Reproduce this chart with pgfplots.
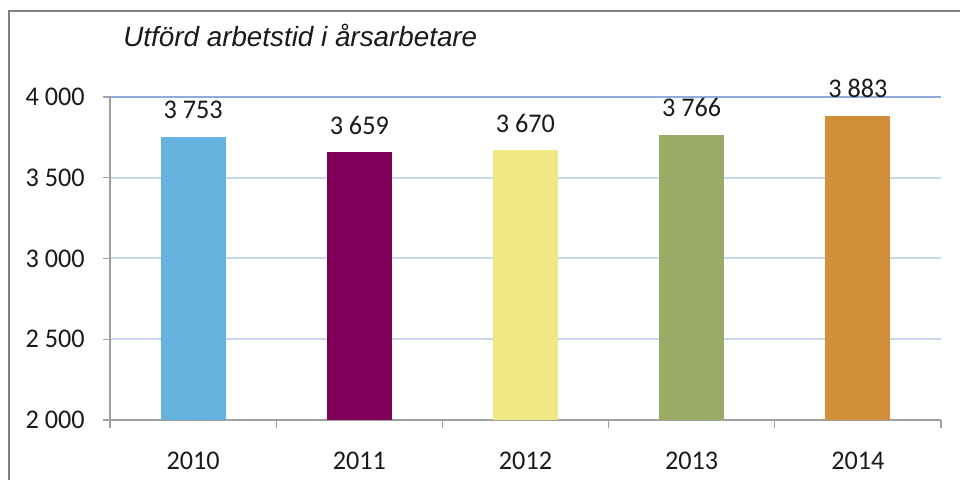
\documentclass[border=0pt]{standalone}
\usepackage{fontspec}
\usepackage{pgfplots}
\pgfplotsset{compat=1.18}
\newfontfamily\calfont[FakeStretch=0.97]{Carlito}
\newfontfamily\titlefont{Liberation Sans}
\definecolor{c2010}{HTML}{66B2DE}
\definecolor{c2011}{HTML}{80005A}
\definecolor{c2012}{HTML}{F0E882}
\definecolor{c2013}{HTML}{9AAA67}
\definecolor{c2014}{HTML}{D28F3A}
\definecolor{gridc}{HTML}{C9D6EE}
\definecolor{topgrid}{HTML}{8FAADC}
\definecolor{axisc}{HTML}{A0A0A0}
\definecolor{framec}{HTML}{808080}
\definecolor{txt}{HTML}{1A1A1A}
\begin{document}
\begin{tikzpicture}
\useasboundingbox (0,0) rectangle (480pt,240pt);
\draw[framec, line width=1pt] (4.5pt,-2pt) -- (4.5pt,234.5pt) -- (482pt,234.5pt);
\node[anchor=base west, inner sep=0pt, text=txt, font={\titlefont\itshape\fontsize{13.9pt}{16pt}\selectfont}] at (61.5pt,216.5pt) {Utförd arbetstid i årsarbetare};
\begin{axis}[
  at={(55pt,30pt)}, anchor=south west,
  scale only axis, width=415.5pt, height=161.5pt,
  xmin=0.5, xmax=5.5, ymin=2000, ymax=4000,
  axis x line*=bottom, axis y line*=left,
  axis line style={axisc, line width=0.6pt},
  xtick={1,2,3,4,5},
  xticklabels={2010,2011,2012,2013,2014},
  major x tick style={draw=none},
  minor xtick={0.5,1.5,2.5,3.5,4.5,5.5},
  minor x tick style={axisc, line width=0.6pt},
  minor tick length=4pt,
  ytick={2000,2500,3000,3500},
  y tick style={axisc, line width=0.6pt},
  major tick length=3.5pt,
  tick align=outside,
  ymajorgrids,
  grid style={gridc, line width=1pt},
  ticklabel style={font={\calfont\fontsize{13.5pt}{15pt}\selectfont}, text=txt},
  /pgf/number format/assume math mode=true,
  /pgf/number format/1000 sep={\ },
  yticklabel style={inner sep=0pt, xshift=-9pt},
  xticklabel style={inner sep=0pt, anchor=base, yshift=-21.5pt},
  extra y ticks={4000},
  extra y tick style={grid style={topgrid, line width=1pt}},
  ybar, bar width=32.5pt, bar shift=0pt,
  nodes near coords,
  nodes near coords style={anchor=base, yshift=9pt, inner sep=0pt, text=txt, font={\calfont\fontsize{13.5pt}{15pt}\selectfont}},
  clip=false,
]
\addplot[fill=c2010, draw=none] coordinates {(1,3753)};
\addplot[fill=c2011, draw=none] coordinates {(2,3659)};
\addplot[fill=c2012, draw=none] coordinates {(3,3670)};
\addplot[fill=c2013, draw=none] coordinates {(4,3766)};
\addplot[fill=c2014, draw=none] coordinates {(5,3883)};
\end{axis}
\end{tikzpicture}
\end{document}
